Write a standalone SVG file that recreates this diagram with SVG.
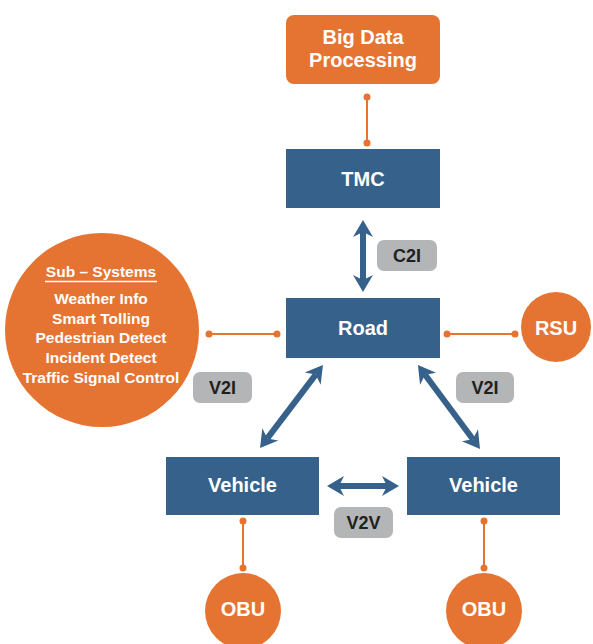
<svg xmlns="http://www.w3.org/2000/svg" width="593" height="644" viewBox="0 0 593 644">
<defs>
<style>
.blue{fill:#36618a}
.orange{fill:#e57432}
.lbl{fill:#b3b5b6}
.wt{fill:#fff;font-family:"Liberation Sans",Arial,sans-serif;font-weight:bold;font-size:20px;text-anchor:middle;dominant-baseline:central}
.dk{fill:#1f1f1f;font-family:"Liberation Sans",Arial,sans-serif;font-weight:bold;font-size:18px;text-anchor:middle;dominant-baseline:central}
.sub{fill:#fff;font-family:"Liberation Sans",Arial,sans-serif;font-weight:bold;font-size:15.5px;text-anchor:middle;dominant-baseline:central}
.oline{stroke:#e57432;stroke-width:2;fill:none}
.arrow{stroke:#36618a;stroke-width:6;fill:none;marker-start:url(#ah);marker-end:url(#ah)}
</style>
<marker id="ah" markerUnits="userSpaceOnUse" markerWidth="24" markerHeight="24" viewBox="-2 -12 24 24" refX="5" refY="0" orient="auto-start-reverse">
<path d="M17,0 L0,-10 L5,0 L0,10 Z" fill="#36618a"/>
</marker>
<marker id="dot" markerUnits="userSpaceOnUse" markerWidth="8" markerHeight="8" viewBox="-4 -4 8 8" refX="0" refY="0">
<circle r="3.5" fill="#e57432"/>
</marker>
</defs>
<rect width="593" height="644" fill="#fff"/>
<g id="connectors">
<line class="oline" x1="367" y1="97" x2="367" y2="143" marker-start="url(#dot)" marker-end="url(#dot)"/>
<line class="oline" x1="209" y1="334" x2="277" y2="334" marker-start="url(#dot)" marker-end="url(#dot)"/>
<line class="oline" x1="447" y1="334" x2="515" y2="334" marker-start="url(#dot)" marker-end="url(#dot)"/>
<line class="oline" x1="243" y1="521" x2="243" y2="568" marker-start="url(#dot)" marker-end="url(#dot)"/>
<line class="oline" x1="484" y1="521" x2="484" y2="568" marker-start="url(#dot)" marker-end="url(#dot)"/>
<line class="arrow" x1="363" y1="232" x2="363" y2="280"/>
<line class="arrow" x1="267.3" y1="438.4" x2="315.7" y2="374.6"/>
<line class="arrow" x1="425.1" y1="374.7" x2="472.9" y2="439.3"/>
<line class="arrow" x1="339" y1="486" x2="387" y2="486"/>
</g>
<g id="bigdata">
<rect class="orange" x="286" y="15" width="154" height="69" rx="8"/>
<text class="wt" x="363" y="37">Big Data</text>
<text class="wt" x="363" y="60">Processing</text>
</g>
<g id="tmc">
<rect class="blue" x="286" y="149" width="154" height="59"/>
<text class="wt" x="363" y="179">TMC</text>
</g>
<g id="c2i">
<rect class="lbl" x="377" y="240" width="60" height="31" rx="7"/>
<text class="dk" x="407" y="256">C2I</text>
</g>
<g id="road">
<rect class="blue" x="286" y="298" width="154" height="60"/>
<text class="wt" x="363" y="328">Road</text>
</g>
<g id="rsu">
<circle class="orange" cx="556" cy="327" r="35"/>
<text class="wt" x="556" y="328">RSU</text>
</g>
<g id="subsystems">
<circle class="orange" cx="102" cy="330" r="97"/>
<text class="sub" x="101" y="271" font-size="15">Sub – Systems</text>
<line x1="45" y1="281.5" x2="157" y2="281.5" stroke="#fff" stroke-width="1.5"/>
<text class="sub" x="101" y="298">Weather Info</text>
<text class="sub" x="101" y="318">Smart Tolling</text>
<text class="sub" x="101" y="337">Pedestrian Detect</text>
<text class="sub" x="101" y="357">Incident Detect</text>
<text class="sub" x="101" y="377">Traffic Signal Control</text>
</g>
<g id="v2i-left">
<rect class="lbl" x="193" y="372" width="59" height="31" rx="7"/>
<text class="dk" x="222.5" y="388">V2I</text>
</g>
<g id="v2i-right">
<rect class="lbl" x="456" y="372" width="58" height="31" rx="7"/>
<text class="dk" x="485" y="388">V2I</text>
</g>
<g id="vehicle-left">
<rect class="blue" x="166" y="457" width="153" height="58"/>
<text class="wt" x="242.5" y="485">Vehicle</text>
</g>
<g id="vehicle-right">
<rect class="blue" x="407" y="457" width="153" height="58"/>
<text class="wt" x="483.5" y="485">Vehicle</text>
</g>
<g id="v2v">
<rect class="lbl" x="334" y="507" width="59" height="31" rx="7"/>
<text class="dk" x="363.5" y="523">V2V</text>
</g>
<g id="obu-left">
<circle class="orange" cx="243" cy="611" r="38"/>
<text class="wt" x="243" y="609">OBU</text>
</g>
<g id="obu-right">
<circle class="orange" cx="484" cy="611" r="38"/>
<text class="wt" x="484" y="609">OBU</text>
</g>
</svg>
